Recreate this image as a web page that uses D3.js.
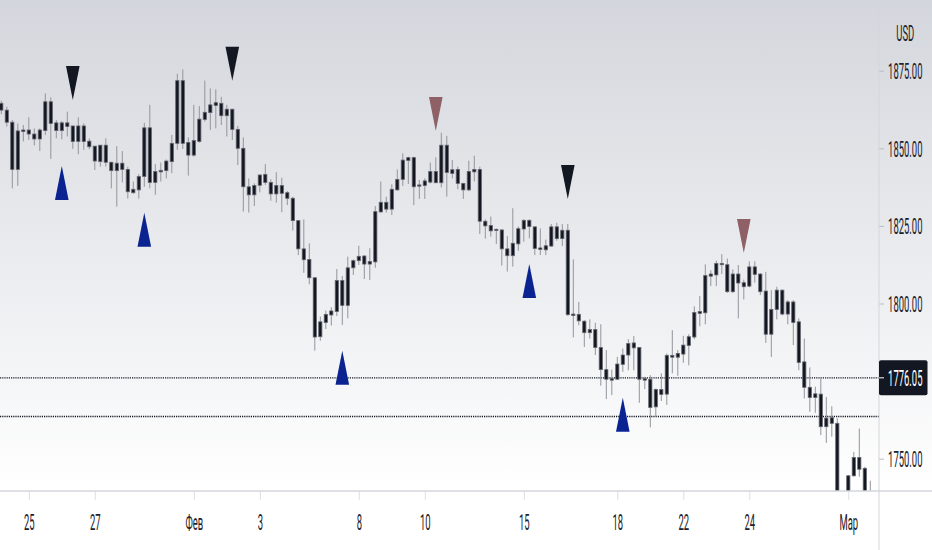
<!DOCTYPE html>
<html>
<head>
<meta charset="utf-8">
<script src="https://cdn.jsdelivr.net/npm/d3@7/dist/d3.min.js"></script>
<style>
body{margin:0;background:#fff;}
svg{display:block;}
text{font-family:Roboto,"Liberation Sans",sans-serif;}
</style>
</head>
<body>
<svg id="chart" width="932" height="550"></svg>
<script>
// all candles are drawn the same dark colour, so only top/bottom of the body are kept
var wickHigh = [1865.3,1863.4,1859.1,1858.0,1857.5,1860.0,1856.4,1856.4,1867.7,1866.4,
1859.1,1858.8,1861.8,1857.2,1860.0,1858.0,1853.2,1850.7,1851.0,1853.2,
1845.7,1850.7,1849.1,1844.1,1839.3,1841.7,1858.2,1864.0,1844.9,1845.4,
1846.4,1854.3,1874.0,1875.4,1853.5,1864.0,1863.6,1871.8,1869.3,1869.0,
1866.6,1864.0,1862.6,1857.2,1853.5,1840.3,1838.7,1841.6,1844.9,1840.0,
1842.3,1840.5,1836.2,1834.4,1826.9,1827.1,1819.4,1808.3,1795.8,1797.7,
1798.8,1811.1,1808.9,1815.1,1814.2,1818.6,1815.6,1817.8,1831.4,1839.3,
1834.4,1838.4,1843.2,1848.4,1847.3,1847.3,1839.8,1840.3,1845.4,1847.1,
1855.0,1854.0,1846.2,1844.1,1838.9,1846.0,1847.6,1844.1,1827.1,1828.0,
1824.2,1823.9,1821.7,1830.7,1824.8,1827.1,1827.1,1824.7,1824.2,1820.6,
1825.6,1826.0,1825.6,1825.6,1814.2,1800.5,1794.6,1794.9,1793.8,1793.3,
1785.0,1778.7,1782.8,1785.5,1788.5,1789.5,1786.0,1776.4,1776.9,1772.6,
1777.5,1783.9,1791.4,1785.0,1789.6,1790.1,1799.1,1802.4,1812.6,1810.7,
1813.8,1815.9,1814.5,1811.0,1812.4,1807.7,1813.6,1813.6,1809.7,1810.2,
1804.3,1805.4,1804.5,1801.1,1801.1,1795.2,1788.7,1779.4,1773.2,1775.9,
1769.9,1766.9,1763.0,1737.0,1744.7,1752.2,1759.7,1747.4,1742.9];

var bodyTop = [1864.5,1862.3,1858.4,1855.6,1855.9,1855.9,1854.6,1855.9,1865.0,1865.0,
1858.2,1858.2,1858.2,1857.2,1857.2,1857.2,1852.3,1850.7,1851.0,1851.0,
1845.5,1845.2,1845.2,1843.2,1836.8,1840.9,1856.6,1856.6,1842.5,1842.9,
1845.9,1851.6,1871.8,1871.8,1851.9,1852.5,1859.4,1861.6,1864.0,1864.7,
1864.5,1862.6,1862.6,1856.1,1850.0,1837.6,1838.0,1841.4,1841.6,1839.0,
1838.0,1838.0,1835.7,1833.9,1826.7,1817.6,1814.2,1808.3,1794.1,1796.5,
1797.6,1807.4,1807.4,1811.5,1813.8,1815.2,1815.3,1813.5,1829.6,1832.6,
1832.6,1836.8,1840.0,1846.2,1847.0,1847.0,1838.2,1839.5,1842.5,1842.5,
1851.0,1851.0,1843.1,1843.2,1838.7,1842.5,1843.2,1843.2,1826.5,1825.1,
1823.9,1823.7,1817.6,1819.4,1824.1,1826.8,1826.8,1824.7,1817.9,1818.6,
1824.7,1824.7,1823.6,1823.6,1796.6,1796.5,1794.3,1791.6,1791.6,1785.8,
1778.7,1775.8,1780.5,1783.4,1787.1,1787.3,1785.8,1775.8,1775.6,1772.3,
1772.3,1783.3,1783.3,1783.9,1786.6,1789.3,1797.1,1797.4,1809.0,1809.5,
1812.9,1812.9,1812.5,1809.5,1809.5,1806.7,1811.8,1811.8,1809.5,1804.0,
1798.1,1804.3,1804.3,1800.5,1800.5,1794.1,1781.2,1773.0,1770.9,1770.8,
1763.1,1763.2,1761.4,1731.0,1744.5,1750.4,1750.4,1746.9,1736.0];

var bodyBottom = [1862.3,1858.4,1843.2,1843.2,1855.4,1854.6,1853.0,1853.0,1855.7,1858.0,
1855.7,1855.7,1857.0,1852.2,1852.2,1852.2,1850.5,1845.9,1845.7,1845.5,
1842.8,1842.8,1843.2,1836.0,1835.7,1836.6,1840.9,1839.0,1839.0,1842.4,
1842.8,1845.7,1851.6,1851.6,1847.8,1847.8,1852.2,1859.3,1861.5,1863.8,
1860.5,1860.5,1856.1,1850.0,1837.6,1835.0,1835.0,1838.1,1839.0,1835.3,
1835.3,1835.5,1833.9,1826.7,1817.6,1814.1,1808.3,1789.2,1789.3,1793.9,
1796.3,1797.4,1799.4,1799.4,1811.5,1813.8,1812.7,1812.7,1813.4,1829.5,
1830.4,1830.4,1836.6,1840.0,1846.1,1837.6,1837.8,1838.0,1839.1,1838.9,
1838.9,1842.2,1841.9,1838.7,1836.6,1836.6,1842.4,1826.5,1825.0,1823.4,
1823.5,1817.6,1815.4,1815.4,1819.2,1824.0,1824.8,1817.7,1817.4,1817.3,
1818.5,1820.9,1820.9,1796.4,1796.1,1794.4,1790.6,1790.6,1785.8,1778.7,
1775.6,1775.3,1775.6,1780.4,1783.4,1785.7,1775.6,1775.3,1766.5,1766.7,
1770.7,1770.8,1782.7,1782.7,1783.7,1786.5,1789.2,1796.8,1797.0,1808.8,
1809.2,1812.5,1803.8,1803.8,1806.6,1805.4,1805.6,1809.4,1803.8,1790.1,
1790.1,1798.1,1796.6,1796.6,1793.9,1781.0,1773.0,1769.7,1769.7,1760.3,
1760.3,1761.4,1730.0,1726.0,1731.0,1744.5,1746.6,1734.0,1730.0];

var wickLow = [1861.0,1857.0,1837.1,1837.9,1852.2,1852.7,1850.9,1849.1,1854.3,1846.6,
1853.2,1852.9,1853.8,1849.8,1848.1,1849.5,1849.7,1843.0,1844.1,1844.1,
1837.1,1831.2,1839.0,1833.8,1835.3,1833.8,1837.6,1837.1,1835.0,1839.3,
1840.3,1842.0,1849.5,1849.8,1841.2,1847.3,1851.8,1858.6,1855.9,1856.4,
1857.5,1853.8,1852.7,1844.6,1829.6,1829.3,1831.4,1835.8,1838.2,1833.1,
1832.5,1829.4,1831.7,1823.5,1815.6,1809.9,1806.2,1784.8,1788.0,1791.8,
1792.9,1796.0,1793.1,1795.2,1809.2,1812.4,1807.9,1807.6,1811.5,1829.3,
1829.3,1828.5,1836.4,1837.9,1838.5,1831.7,1833.7,1833.7,1838.7,1838.9,
1837.4,1834.4,1840.3,1836.8,1833.7,1836.2,1839.3,1822.4,1820.9,1821.5,
1819.2,1812.2,1810.3,1811.9,1817.0,1819.9,1821.0,1815.6,1815.6,1815.6,
1818.3,1820.2,1818.5,1796.0,1789.1,1793.0,1786.0,1788.7,1783.4,1773.5,
1769.2,1770.5,1775.6,1778.0,1778.5,1778.5,1768.0,1772.4,1760.1,1763.5,
1768.6,1767.3,1777.5,1776.7,1780.9,1780.1,1788.5,1792.7,1793.3,1805.6,
1805.6,1809.5,1803.4,1803.4,1795.2,1801.3,1805.2,1806.7,1802.7,1787.3,
1782.8,1794.9,1796.2,1793.3,1786.6,1778.5,1769.4,1765.1,1764.8,1757.6,
1755.1,1757.1,1726.0,1722.0,1728.0,1744.2,1744.2,1731.0,1727.0];

var priceTicks = [1875, 1850, 1825, 1800, 1750];
var lastPrice = 1776.05;
var levelPrices = [1776.05, 1763.6];

var dateTickIndex = [5, 17, 35, 47, 65, 77, 95, 112, 124, 136, 154];
var dateTickLabels = ["25", "27", "Фев", "3", "8", "10", "15", "18", "22", "24", "Мар"];

// triangles: candle index and price of the tip
var sellIndex = [13, 42, 79, 103, 135];
var sellTip = [1865.6, 1871.8, 1855.6, 1833.7, 1816.3];
var sellColor = ["#131722", "#131722", "#8f6066", "#131722", "#8f6066"];
var buyIndex = [11, 26, 62, 96, 113];
var buyTip = [1844.3, 1829.2, 1784.8, 1812.7, 1769.6];

var width = 932, height = 550, plotRight = 879, plotBottom = 491;
var textColor = "#1c202b", lineColor = "#d3d6dc";
var fontSize = 22, squeeze = "scale(0.43,1)";

var x = d3.scaleLinear().domain([0, 158]).range([1.3, 870.3]);
var y = d3.scaleLinear().domain([1875, 1750]).range([70.7, 458.7]);

var svg = d3.select("#chart");
var defs = svg.append("defs");

var grad = defs.append("linearGradient").attr("id", "bg")
    .attr("x1", 0).attr("y1", 0).attr("x2", 0).attr("y2", 1);
grad.append("stop").attr("offset", "0%").attr("stop-color", "#d3d6dc");
grad.append("stop").attr("offset", "100%").attr("stop-color", "#ffffff");

defs.append("clipPath").attr("id", "plot").append("rect")
    .attr("width", plotRight).attr("height", plotBottom);

svg.append("rect").attr("width", width).attr("height", plotBottom).attr("fill", "url(#bg)");

var plot = svg.append("g").attr("clip-path", "url(#plot)");

// dotted levels
plot.selectAll("line.level")
    .data(levelPrices)
    .enter()
    .append("line")
    .attr("class", "level")
    .attr("x1", 0).attr("x2", plotRight)
    .attr("y1", function(d){ return y(d); })
    .attr("y2", function(d){ return y(d); })
    .attr("stroke", "#131722")
    .attr("stroke-width", 1.4)
    .attr("stroke-dasharray", "1.2,1");

var candles = plot.selectAll("g.candle")
    .data(d3.range(wickHigh.length))
    .enter()
    .append("g")
    .attr("class", "candle");

candles.append("line")
    .attr("x1", function(i){ return x(i); })
    .attr("x2", function(i){ return x(i); })
    .attr("y1", function(i){ return y(wickHigh[i]); })
    .attr("y2", function(i){ return y(wickLow[i]); })
    .attr("stroke", "#92949b")
    .attr("stroke-width", 1);

candles.append("rect")
    .attr("x", function(i){ return x(i) - 1.6; })
    .attr("width", 3.2)
    .attr("y", function(i){ return y(bodyTop[i]); })
    .attr("height", function(i){ return Math.max(1, y(bodyBottom[i]) - y(bodyTop[i])); })
    .attr("fill", "#131722")
    .attr("stroke", "#63666f")
    .attr("stroke-width", 0.8);

// markers
var markerW = 6.8, markerH = 34;
svg.selectAll("path.sell")
    .data(sellIndex)
    .enter()
    .append("path")
    .attr("class", "sell")
    .attr("d", function(d, i){
        var px = x(d), py = y(sellTip[i]);
        return "M" + px + "," + py + "L" + (px - markerW) + "," + (py - markerH) + "L" + (px + markerW) + "," + (py - markerH) + "Z";
    })
    .attr("fill", function(d, i){ return sellColor[i]; });

svg.selectAll("path.buy")
    .data(buyIndex)
    .enter()
    .append("path")
    .attr("class", "buy")
    .attr("d", function(d, i){
        var px = x(d), py = y(buyTip[i]);
        return "M" + px + "," + py + "L" + (px - markerW) + "," + (py + markerH) + "L" + (px + markerW) + "," + (py + markerH) + "Z";
    })
    .attr("fill", "#0a2391");

// bottom axis
var xAxis = d3.axisBottom(x)
    .tickValues(dateTickIndex)
    .tickFormat(function(d, i){ return dateTickLabels[i]; })
    .tickSize(9)
    .tickSizeOuter(0);

var xg = svg.append("g").attr("transform", "translate(0," + plotBottom + ")").call(xAxis);
xg.select(".domain").remove();
xg.selectAll("line").attr("stroke", "#dcdfe4");
xg.selectAll("text")
    .attr("y", 39)
    .attr("dy", 0)
    .attr("font-size", fontSize)
    .attr("fill", textColor)
    .attr("transform", squeeze);

svg.append("line")
    .attr("x1", 0).attr("x2", width)
    .attr("y1", plotBottom).attr("y2", plotBottom)
    .attr("stroke", lineColor).attr("stroke-width", 1.5);

// price axis
var yAxis = d3.axisRight(y)
    .tickValues(priceTicks)
    .tickFormat(d3.format(".2f"))
    .tickSize(5)
    .tickSizeOuter(0);

var yg = svg.append("g").attr("transform", "translate(" + plotRight + ",0)").call(yAxis);
yg.select(".domain").remove();
yg.selectAll("line").attr("stroke", "#b9bcc3");
yg.selectAll("text")
    .attr("x", 0)
    .attr("dy", "0.36em")
    .attr("text-anchor", "middle")
    .attr("font-size", fontSize)
    .attr("fill", textColor)
    .attr("transform", "translate(26.3,0) " + squeeze);

svg.append("line")
    .attr("x1", plotRight).attr("x2", plotRight)
    .attr("y1", 0).attr("y2", height)
    .attr("stroke", lineColor).attr("stroke-width", 1);

svg.append("text")
    .attr("text-anchor", "middle")
    .attr("font-size", fontSize)
    .attr("fill", textColor)
    .attr("transform", "translate(905.3,40.5) " + squeeze)
    .text("USD");

// last price label
var lastY = y(lastPrice);
svg.append("rect")
    .attr("x", plotRight).attr("y", lastY - 17.5)
    .attr("width", 48.5).attr("height", 35)
    .attr("rx", 2)
    .attr("fill", "#131722");
svg.append("line")
    .attr("x1", plotRight).attr("x2", plotRight + 5)
    .attr("y1", lastY).attr("y2", lastY)
    .attr("stroke", "#ffffff");
svg.append("text")
    .attr("text-anchor", "middle")
    .attr("font-size", fontSize)
    .attr("fill", "#ffffff")
    .attr("transform", "translate(905.3," + (lastY + 8) + ") " + squeeze)
    .text(d3.format(".2f")(lastPrice));
</script>
</body>
</html>
